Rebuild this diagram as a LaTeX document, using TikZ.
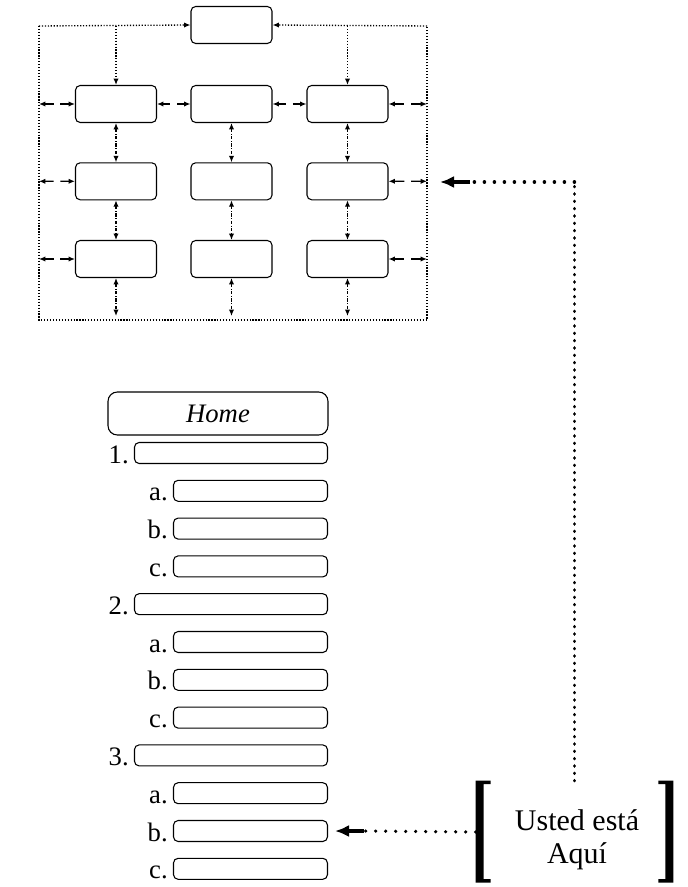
\documentclass[tikz,border=0pt]{standalone}
\usepackage{fontspec}
\setmainfont{Liberation Serif}
\usetikzlibrary{arrows.meta,calc}
\newcommand\twoway[2]{%
  \draw[arr,<-] (#1) -- ($(#1)!0.5!(#2)!2.6pt!(#1)$);
  \draw[arr,->] ($(#1)!0.5!(#2)!2.6pt!(#2)$) -- (#2);}
\begin{document}
\begin{tikzpicture}[x=0.75pt,y=-0.75pt,
  >={Latex[length=4.8pt,width=4pt]},
  gbox/.style={draw, line width=0.8pt, rounded corners=3.5pt, minimum width=60.75pt, minimum height=27.75pt, inner sep=0pt},
  frm/.style={line width=1pt, dash pattern=on 0.9pt off 1.3pt},
  arr/.style={line width=0.9pt},
  vdd/.style={line width=0.9pt, dash pattern=on 2.5pt off 1.2pt on 0.6pt off 1.2pt},
  ibox/.style={draw, line width=0.8pt, rounded corners=3.5pt, minimum height=15.75pt, inner sep=0pt, anchor=east},
  mainbox/.style={ibox, minimum width=144.75pt},
  subbox/.style={ibox, minimum width=115.5pt},
  lbl/.style={anchor=base east, inner sep=0pt, font=\fontsize{20pt}{22pt}\selectfont},
  bigH/.style={line width=2.6pt, line cap=round, dash pattern=on 0.1pt off 7.4pt},
  bigV/.style={line width=2.6pt, line cap=round, dash pattern=on 0.1pt off 5.4pt},
  fat/.style={line width=3pt, -{Latex[length=10.5pt,width=9pt]}}]
\useasboundingbox (0,0) rectangle (687,887);

% ---------- site map ----------
\node[gbox] (top) at (231.5,25) {};
\foreach \r/\y in {1/104,2/181.3,3/259}{
  \foreach \c/\x in {1/116,2/231.5,3/347.5}{
    \node[gbox] (r\r c\c) at (\x,\y) {};
  }
}
\coordinate (fTL) at (39,26);
\coordinate (fTR) at (427,26);
\coordinate (fBL) at (39,320);
\coordinate (fBR) at (427,320);
\draw[frm] (fTL) -- (fBL) -- (fBR) -- (fTR);
\draw[frm,->] (fTL) -- (top.west);
\draw[frm,->] (fTR) -- (top.east);
\draw[frm,->] (fTL -| r1c1.north) -- (r1c1.north);
\draw[frm,->] (fTR -| r1c3.north) -- (r1c3.north);

% horizontal double arrows
\foreach \r in {1,2,3}{
  \coordinate (L\r) at (r\r c1.west -| fTL);
  \coordinate (R\r) at (r\r c3.east -| fTR);
}
\twoway{L1}{r1c1.west}
\twoway{L2}{r2c1.west}
\twoway{L3}{r3c1.west}
\twoway{r1c1.east}{r1c2.west}
\twoway{r1c2.east}{r1c3.west}
\twoway{r1c3.east}{R1}
\twoway{r2c3.east}{R2}
\twoway{r3c3.east}{R3}

% vertical double arrows
\foreach \c in {1,2,3}{
  \draw[vdd,<->] (r1c\c.south) -- (r2c\c.north);
  \draw[vdd,<->] (r2c\c.south) -- (r3c\c.north);
  \coordinate (B\c) at (r3c\c.south |- fBL);
  \draw[vdd,<->,shorten >=3pt] (r3c\c.south) -- (B\c);
}

% ---------- list ----------
\node[draw, line width=0.8pt, rounded corners=7pt, minimum width=165pt, minimum height=32.25pt, inner sep=0pt, font=\fontsize{20pt}{22pt}\selectfont\itshape] (home) at (218,413.5) {Home};

\node[mainbox] (i1) at (328,453) {};
\node[subbox] (a1) at (328,490.8) {};
\node[subbox] (b1) at (328,528.6) {};
\node[subbox] (c1) at (328,566.4) {};
\node[mainbox] (i2) at (328,604.2) {};
\node[subbox] (a2) at (328,642) {};
\node[subbox] (b2) at (328,679.8) {};
\node[subbox] (c2) at (328,717.6) {};
\node[mainbox] (i3) at (328,755.4) {};
\node[subbox] (a3) at (328,793.2) {};
\node[subbox] (b3) at (328,831) {};
\node[subbox] (c3) at (328,868.8) {};

\foreach \n/\t in {i1/1.,a1/a.,b1/b.,c1/c.,i2/2.,a2/a.,b2/b.,c2/c.,i3/3.,a3/a.,b3/b.,c3/c.}{
  \node[lbl] (lab\n) at ($(\n.south west)+(-5,-1)$) {\t};
}

% ---------- you are here ----------
\node[minimum width=147.75pt, minimum height=76.5pt, inner sep=0pt] (here) at (574.5,832) {};
\node[align=center, inner sep=0pt, font=\fontsize{22.5pt}{24.5pt}\selectfont] (heretxt) at (577,840) {Usted está\\Aquí};
\fill (here.north west) -- ++(15,0) -- ++(0,3.5) -- ++(-7,0) -- ++(0,95) -- ++(7,0) -- ++(0,3.5) -- ++(-15,0) -- cycle;
\fill (here.north east) -- ++(-15,0) -- ++(0,3.5) -- ++(7,0) -- ++(0,95) -- ++(-7,0) -- ++(0,3.5) -- ++(15,0) -- cycle;

\coordinate (atip) at (440,182);
\coordinate (ashaft) at (470,182);
\coordinate (corner) at (here.north |- atip);
\draw[bigV] (here.north) -- (corner);
\draw[bigH] (corner) -- (ashaft);
\draw[fat] (ashaft) -- (atip);

\coordinate (btip) at ($(b3.east)+(7,0)$);
\coordinate (bshaft) at ($(b3.east)+(36,0)$);
\draw[bigH] (here.west) -- (bshaft);
\draw[fat] (bshaft) -- (btip);
\end{tikzpicture}
\end{document}
